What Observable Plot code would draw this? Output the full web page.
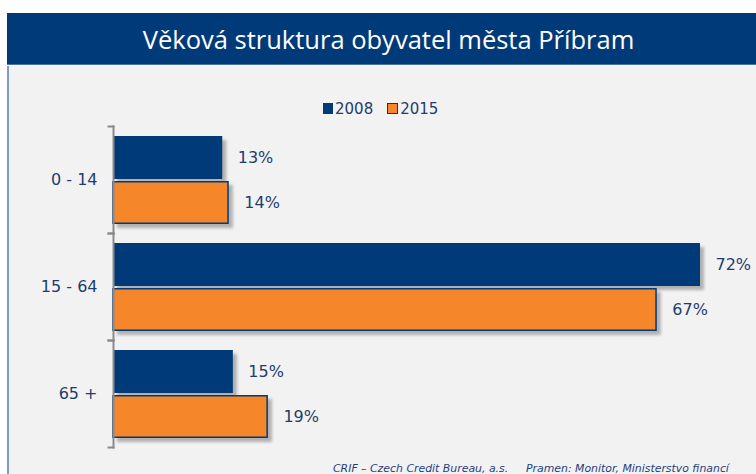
<!DOCTYPE html>
<html>
<head>
<meta charset="utf-8">
<script src="https://cdn.jsdelivr.net/npm/d3@7"></script>
<script src="https://cdn.jsdelivr.net/npm/@observablehq/plot@0.6"></script>
<style>
  html, body { margin: 0; padding: 0; background: #ffffff; }
  body { width: 756px; height: 474px; position: relative; overflow: hidden; font-family: "DejaVu Sans", Verdana, sans-serif; }
  #title { position: absolute; left: 7px; top: 13px; width: 749px; height: 52px; background: #003a78; border-bottom: 1px solid #4a6fa5; color: #ffffff; font-family: "Open Sans", sans-serif; font-size: 25.5px; line-height: 52px; text-align: center; box-sizing: border-box; padding-left: 14px; }
  #panel { position: absolute; left: 7px; top: 66px; right: 0; bottom: 0; background: #f2f2f2; border-left: 2px solid #7f9cc9; }
  #legend { position: absolute; left: 323px; top: 100px; height: 17px; display: flex; align-items: center; font-size: 15px; color: #1e3d6e; }
  #legend .sw { display: inline-block; width: 10px; height: 11px; box-sizing: border-box; }
  #legend .txt { margin-left: 2px; margin-right: 14px; }
  #chart { position: absolute; left: 0; top: 66px; }
  .shadow { filter: blur(1.5px); }
  #caption { position: absolute; top: 462px; left: 0; font-style: italic; font-size: 10.9px; color: #1f3f7f; white-space: pre; }
  #caption span { position: absolute; top: 0; }
</style>
</head>
<body>
<div id="panel"></div>
<div id="title">Věková struktura obyvatel města Příbram</div>
<div id="legend"></div>
<div id="chart"></div>
<div id="caption"></div>
<script>
// ---- data ----
const categories = ["0 - 14", "15 - 64", "65 +"];
const years = ["2008", "2015"];
const values2008 = [13.4, 72.0, 14.7];
const values2015 = [14.2, 66.7, 19.0];
const titleText = "Věková struktura obyvatel města Příbram";
const captionLeft = "CRIF – Czech Credit Bureau, a.s.";
const captionRight = "Pramen: Monitor, Ministerstvo financí";

// ---- styles ----
const navy = "#003a78";
const orange = "#f5862a";
const textColor = "#1e3d6e";
const axisGray = "#8a8a8a";

const table = categories.flatMap((c, i) => [
  {cat: c, year: years[0], value: values2008[i]},
  {cat: c, year: years[1], value: values2015[i]}
]);

document.getElementById("title").textContent = titleText;

// legend
const legend = document.getElementById("legend");
years.forEach((y, i) => {
  const sw = document.createElement("span");
  sw.className = "sw";
  if (i === 0) { sw.style.background = navy; }
  else { sw.style.background = orange; sw.style.border = "1.5px solid " + navy; sw.style.width = "11px"; }
  const t = document.createElement("span");
  t.className = "txt";
  t.textContent = y;
  legend.appendChild(sw);
  legend.appendChild(t);
});

// caption
const cap = document.getElementById("caption");
const s1 = document.createElement("span"); s1.style.left = "333px"; s1.textContent = captionLeft;
const s2 = document.createElement("span"); s2.style.left = "526px"; s2.textContent = captionRight;
cap.appendChild(s1); cap.appendChild(s2);

const W = 756, H = 408, mL = 113, mR = 56;
const plotWidth = W - mL - mR;

const chart = Plot.plot({
  width: W,
  height: H,
  marginTop: 60,
  marginBottom: 27,
  marginLeft: mL,
  marginRight: mR,
  style: {background: "transparent", fontFamily: "DejaVu Sans, Verdana, sans-serif", fontSize: "16px", color: textColor, overflow: "visible"},
  x: {domain: [0, 72], axis: null},
  y: {domain: years, axis: null, paddingInner: 0.05, paddingOuter: 0.2},
  fy: {domain: categories, padding: 0, label: null},
  marks: [
    Plot.barX(table, {fy: "cat", y: "year", x: "value", fill: "#7a7a7a", fillOpacity: 0.55, dx: 4, dy: 4, className: "shadow"}),
    Plot.barX(table, {filter: d => d.year === years[0], fy: "cat", y: "year", x: "value", fill: navy}),
    Plot.barX(table, {filter: d => d.year === years[1], fy: "cat", y: "year", x: "value", fill: orange, stroke: navy, strokeWidth: 1.5, insetTop: 0.75, insetBottom: 0.75, insetRight: 0.75}),
    Plot.text(table, {fy: "cat", y: "year", x: "value", text: d => Math.round(d.value) + "%", textAnchor: "start", dx: 15, fill: textColor, fontSize: 16}),
    Plot.frame({anchor: "left", stroke: axisGray, strokeWidth: 2}),
    Plot.frame({anchor: "top", stroke: axisGray, strokeWidth: 2, insetLeft: -5, insetRight: plotWidth}),
    Plot.frame({anchor: "bottom", stroke: axisGray, strokeWidth: 2, insetLeft: -5, insetRight: plotWidth}),
    Plot.axisFy({anchor: "left", tickSize: 0, tickPadding: 16, fontSize: 16, fill: textColor, label: null})
  ]
});
document.getElementById("chart").appendChild(chart);
</script>
</body>
</html>
